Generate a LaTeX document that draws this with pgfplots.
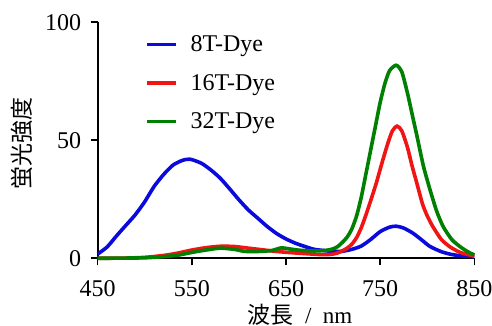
\documentclass[border=0pt]{standalone}
\usepackage{fontspec}
\setmainfont{Liberation Serif}
\newfontfamily\cjk{Noto Sans CJK JP}
\usepackage{pgfplots}
\pgfplotsset{compat=1.18}
\definecolor{cblue}{RGB}{10,10,220}
\definecolor{cred}{RGB}{240,20,20}
\definecolor{cgreen}{RGB}{0,128,0}
\begin{document}
\begin{tikzpicture}
\begin{axis}[
  name=ax,
  scale only axis,
  width=376.6pt, height=236pt,
  xmin=450, xmax=850, ymin=0, ymax=100,
  xtick={450,550,650,750,850},
  ytick={0,50,100},
  axis lines*=left,
  axis line style={line width=1.8pt},
  tick style={line width=1.6pt, black},
  tick align=outside,
  major tick length=7pt,
  /pgf/number format/assume math mode=true,
  /pgf/number format/set thousands separator={},
  tick label style={font=\fontsize{24}{26}\selectfont},
  xticklabel style={yshift=-12pt},
  yticklabel style={xshift=-6pt},
  xlabel={{\cjk 波長}\ \ /\ \ nm},
  ylabel={\cjk 蛍光強度},
  xlabel style={font=\fontsize{23}{26}\selectfont, at={(axis description cs:0.537,-0.238)}, anchor=center},
  ylabel style={font=\fontsize{23}{26}\selectfont, at={(axis description cs:-0.201,0.487)}, anchor=center, rotate=0},
  legend style={draw=none, fill=none, font=\fontsize{24}{26}\selectfont,
    at={(axis description cs:0.117,0.965)}, anchor=north west,
    row sep=15pt, nodes={inner sep=3pt}},
  legend cell align=left,
  legend image code/.code={\draw[#1] (0pt,0pt) -- (29pt,0pt); \path (39pt,0pt);},
  every axis plot/.append style={line width=3.6pt, smooth, tension=0.4},
  clip=false,
]
\addplot[cblue] coordinates {
(450,1.8) (460,4.8) (470,9.5) (480,14) (490,18.5) (500,24) (510,30.5) (520,35.5)
(530,39.5) (540,41.5) (548,42) (560,40.3) (570,37.5) (580,34) (590,29.5) (600,24.8)
(610,20.5) (620,17) (630,13.5) (640,10.5) (650,8.2) (660,6.4) (670,5) (680,3.8)
(690,3.3) (700,2.9) (710,3) (720,3.8) (730,5.2) (740,8) (750,11.3) (760,13.2)
(767,13.6) (775,12.8) (785,10.6) (795,7.5) (803,5) (815,2.8) (825,1.7) (835,1.1) (850,0.6)
};
\addlegendentry{8T-Dye}
\addplot[cred] coordinates {
(450,0) (480,0.1) (500,0.4) (520,1.2) (535,2.2) (550,3.5) (565,4.5) (580,5.1)
(595,5) (610,4.3) (625,3.6) (640,2.9) (655,2.4) (670,2) (685,1.6) (695,1.6)
(700,1.8) (705,2.3) (710,3.2) (715,4.3) (720,6) (725,8.8) (730,13) (735,18.5)
(740,24.5) (746,32) (752,40.5) (758,48.5) (763,54) (768,56) (773,54) (779,47)
(784,39) (789,31.8) (795,23) (800,18) (806,13.4) (815,8) (824,4.9) (835,2.5) (850,0.9)
};
\addlegendentry{16T-Dye}
\addplot[cgreen] coordinates {
(450,0) (480,0.1) (500,0.2) (520,0.7) (535,1.3) (550,2.5) (565,3.5) (580,4.3)
(595,3.8) (605,3) (615,2.8) (625,3) (635,3.3) (645,4.4) (655,3.9) (665,3.4)
(680,3.1) (693,3.4) (700,4) (705,5) (710,6.8) (715,9) (720,12.5) (725,18)
(730,26) (735,36) (740,46) (745,56) (750,66) (755,74) (760,79.5) (767,81.8)
(773,79) (779,70) (784,61) (789,52) (796,39) (803,29) (810,20) (817,13.4)
(826,8) (835,4.9) (843,2.8) (850,1.4)
};
\addlegendentry{32T-Dye}
\end{axis}
\pgfresetboundingbox
\path (ax.south west) ++(-97.7pt,-67.7pt) rectangle ++(492pt,326pt);
\end{tikzpicture}
\end{document}
